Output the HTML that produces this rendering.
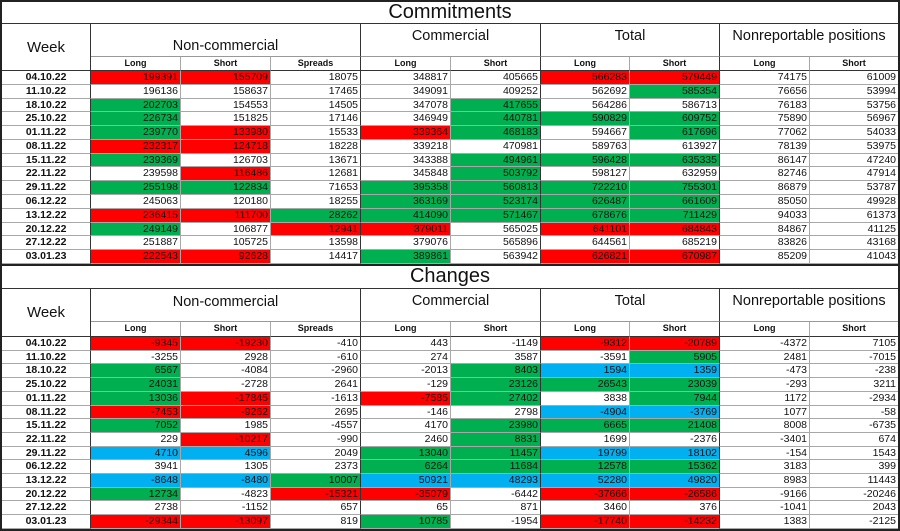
<!DOCTYPE html>
<html><head><meta charset="utf-8"><style>
*{box-sizing:border-box;margin:0;padding:0}
body{width:900px;height:531px;background:#fff;font-family:"Liberation Sans",Arial,sans-serif;overflow:hidden;position:relative}
.s{position:absolute;left:0;width:900px;display:grid;grid-template-columns:89px 90px 90px 90px 90px 90px 89px 90px 90px 88px;border-left:2px solid #222;border-right:2px solid #222}
#a{top:0;height:264px;grid-template-rows:22px 33px 14px repeat(14,13.79px);border-top:2px solid #222}
#b{top:264px;height:267px;grid-template-rows:23px 33px 15px repeat(14,13.71px);border-top:2px solid #222;border-bottom:2px solid #222}
.s>div{border-right:1px solid #a8a8a8;border-bottom:1px solid #a8a8a8;font-size:10.5px;text-align:right;padding-right:2px;line-height:13px;color:#111;overflow:hidden;white-space:nowrap}
.s>div.t{grid-column:1/11;text-align:center;font-size:20px;line-height:21px;border-bottom:1px solid #333;border-right:none;padding:0}
.s>div.w{grid-row:2/4;grid-column:1;text-align:center;font-size:15px;display:flex;align-items:center;justify-content:center;padding:0;border-bottom:1px solid #333;border-right:1px solid #333}
.s>div.h{grid-row:2;text-align:center;font-size:14.5px;padding:0;display:flex;justify-content:center;border-right:1px solid #333;border-bottom:1px solid #999}
.s>div.sh{text-align:center;font-weight:bold;font-size:9px;padding:0;border-bottom:1px solid #333}
.s>div.d{text-align:center;font-weight:bold;padding:0;border-right:1px solid #333}
.s>div.x{border-right:1px solid #333}
.s>div.e{border-right:none}
.r{background:#ff0000}.g{background:#00b050}.b{background:#00b0f0}
</style></head><body>
<div class="s" id="a">
<div class="t">Commitments</div>
<div class="w">Week</div>
<div class="h" style="grid-column:2/5;align-items:flex-end;padding-bottom:3px">Non-commercial</div>
<div class="h" style="grid-column:5/7;align-items:flex-start;padding-top:6px">Commercial</div>
<div class="h" style="grid-column:7/9;align-items:flex-start;padding-top:6px">Total</div>
<div class="h" style="grid-column:9/11;align-items:flex-start;padding-top:6px;border-right:none">Nonreportable positions</div>
<div class="sh">Long</div><div class="sh">Short</div><div class="sh x">Spreads</div><div class="sh">Long</div><div class="sh x">Short</div><div class="sh">Long</div><div class="sh x">Short</div><div class="sh">Long</div><div class="sh e">Short</div>
<div class="d">04.10.22</div><div class="r">199391</div><div class="r">155709</div><div class="x">18075</div><div>348817</div><div class="x">405665</div><div class="r">566283</div><div class="r x">579449</div><div>74175</div><div class="e">61009</div>
<div class="d">11.10.22</div><div>196136</div><div>158637</div><div class="x">17465</div><div>349091</div><div class="x">409252</div><div>562692</div><div class="g x">585354</div><div>76656</div><div class="e">53994</div>
<div class="d">18.10.22</div><div class="g">202703</div><div>154553</div><div class="x">14505</div><div>347078</div><div class="g x">417655</div><div>564286</div><div class="x">586713</div><div>76183</div><div class="e">53756</div>
<div class="d">25.10.22</div><div class="g">226734</div><div>151825</div><div class="x">17146</div><div>346949</div><div class="g x">440781</div><div class="g">590829</div><div class="g x">609752</div><div>75890</div><div class="e">56967</div>
<div class="d">01.11.22</div><div class="g">239770</div><div class="r">133980</div><div class="x">15533</div><div class="r">339364</div><div class="g x">468183</div><div>594667</div><div class="g x">617696</div><div>77062</div><div class="e">54033</div>
<div class="d">08.11.22</div><div class="r">232317</div><div class="r">124718</div><div class="x">18228</div><div>339218</div><div class="x">470981</div><div>589763</div><div class="x">613927</div><div>78139</div><div class="e">53975</div>
<div class="d">15.11.22</div><div class="g">239369</div><div>126703</div><div class="x">13671</div><div>343388</div><div class="g x">494961</div><div class="g">596428</div><div class="g x">635335</div><div>86147</div><div class="e">47240</div>
<div class="d">22.11.22</div><div>239598</div><div class="r">116486</div><div class="x">12681</div><div>345848</div><div class="g x">503792</div><div>598127</div><div class="x">632959</div><div>82746</div><div class="e">47914</div>
<div class="d">29.11.22</div><div class="g">255198</div><div class="g">122834</div><div class="x">71653</div><div class="g">395358</div><div class="g x">560813</div><div class="g">722210</div><div class="g x">755301</div><div>86879</div><div class="e">53787</div>
<div class="d">06.12.22</div><div>245063</div><div>120180</div><div class="x">18255</div><div class="g">363169</div><div class="g x">523174</div><div class="g">626487</div><div class="g x">661609</div><div>85050</div><div class="e">49928</div>
<div class="d">13.12.22</div><div class="r">236415</div><div class="r">111700</div><div class="g x">28262</div><div class="g">414090</div><div class="g x">571467</div><div class="g">678676</div><div class="g x">711429</div><div>94033</div><div class="e">61373</div>
<div class="d">20.12.22</div><div class="g">249149</div><div>106877</div><div class="r x">12941</div><div class="r">379011</div><div class="x">565025</div><div class="r">641101</div><div class="r x">684843</div><div>84867</div><div class="e">41125</div>
<div class="d">27.12.22</div><div>251887</div><div>105725</div><div class="x">13598</div><div>379076</div><div class="x">565896</div><div>644561</div><div class="x">685219</div><div>83826</div><div class="e">43168</div>
<div class="d">03.01.23</div><div class="r">222543</div><div class="r">92628</div><div class="x">14417</div><div class="g">389861</div><div class="x">563942</div><div class="r">626821</div><div class="r x">670987</div><div>85209</div><div class="e">41043</div>
</div>
<div class="s" id="b">
<div class="t">Changes</div>
<div class="w">Week</div>
<div class="h" style="grid-column:2/5;align-items:flex-start;padding-top:7px">Non-commercial</div>
<div class="h" style="grid-column:5/7;align-items:flex-start;padding-top:6px">Commercial</div>
<div class="h" style="grid-column:7/9;align-items:flex-start;padding-top:6px">Total</div>
<div class="h" style="grid-column:9/11;align-items:flex-start;padding-top:6px;border-right:none">Nonreportable positions</div>
<div class="sh">Long</div><div class="sh">Short</div><div class="sh x">Spreads</div><div class="sh">Long</div><div class="sh x">Short</div><div class="sh">Long</div><div class="sh x">Short</div><div class="sh">Long</div><div class="sh e">Short</div>
<div class="d">04.10.22</div><div class="r">-9345</div><div class="r">-19230</div><div class="x">-410</div><div>443</div><div class="x">-1149</div><div class="r">-9312</div><div class="r x">-20789</div><div>-4372</div><div class="e">7105</div>
<div class="d">11.10.22</div><div>-3255</div><div>2928</div><div class="x">-610</div><div>274</div><div class="x">3587</div><div>-3591</div><div class="g x">5905</div><div>2481</div><div class="e">-7015</div>
<div class="d">18.10.22</div><div class="g">6567</div><div>-4084</div><div class="x">-2960</div><div>-2013</div><div class="g x">8403</div><div class="b">1594</div><div class="b x">1359</div><div>-473</div><div class="e">-238</div>
<div class="d">25.10.22</div><div class="g">24031</div><div>-2728</div><div class="x">2641</div><div>-129</div><div class="g x">23126</div><div class="g">26543</div><div class="g x">23039</div><div>-293</div><div class="e">3211</div>
<div class="d">01.11.22</div><div class="g">13036</div><div class="r">-17845</div><div class="x">-1613</div><div class="r">-7585</div><div class="g x">27402</div><div>3838</div><div class="g x">7944</div><div>1172</div><div class="e">-2934</div>
<div class="d">08.11.22</div><div class="r">-7453</div><div class="r">-9262</div><div class="x">2695</div><div>-146</div><div class="x">2798</div><div class="b">-4904</div><div class="b x">-3769</div><div>1077</div><div class="e">-58</div>
<div class="d">15.11.22</div><div class="g">7052</div><div>1985</div><div class="x">-4557</div><div>4170</div><div class="g x">23980</div><div class="g">6665</div><div class="g x">21408</div><div>8008</div><div class="e">-6735</div>
<div class="d">22.11.22</div><div>229</div><div class="r">-10217</div><div class="x">-990</div><div>2460</div><div class="g x">8831</div><div>1699</div><div class="x">-2376</div><div>-3401</div><div class="e">674</div>
<div class="d">29.11.22</div><div class="b">4710</div><div class="b">4596</div><div class="x">2049</div><div class="g">13040</div><div class="g x">11457</div><div class="b">19799</div><div class="b x">18102</div><div>-154</div><div class="e">1543</div>
<div class="d">06.12.22</div><div>3941</div><div>1305</div><div class="x">2373</div><div class="g">6264</div><div class="g x">11684</div><div class="g">12578</div><div class="g x">15362</div><div>3183</div><div class="e">399</div>
<div class="d">13.12.22</div><div class="b">-8648</div><div class="b">-8480</div><div class="g x">10007</div><div class="b">50921</div><div class="b x">48293</div><div class="b">52280</div><div class="b x">49820</div><div>8983</div><div class="e">11443</div>
<div class="d">20.12.22</div><div class="g">12734</div><div>-4823</div><div class="r x">-15321</div><div class="r">-35079</div><div class="x">-6442</div><div class="r">-37666</div><div class="r x">-26586</div><div>-9166</div><div class="e">-20246</div>
<div class="d">27.12.22</div><div>2738</div><div>-1152</div><div class="x">657</div><div>65</div><div class="x">871</div><div>3460</div><div class="x">376</div><div>-1041</div><div class="e">2043</div>
<div class="d">03.01.23</div><div class="r">-29344</div><div class="r">-13097</div><div class="x">819</div><div class="g">10785</div><div class="x">-1954</div><div class="r">-17740</div><div class="r x">-14232</div><div>1383</div><div class="e">-2125</div>
</div>
</body></html>
